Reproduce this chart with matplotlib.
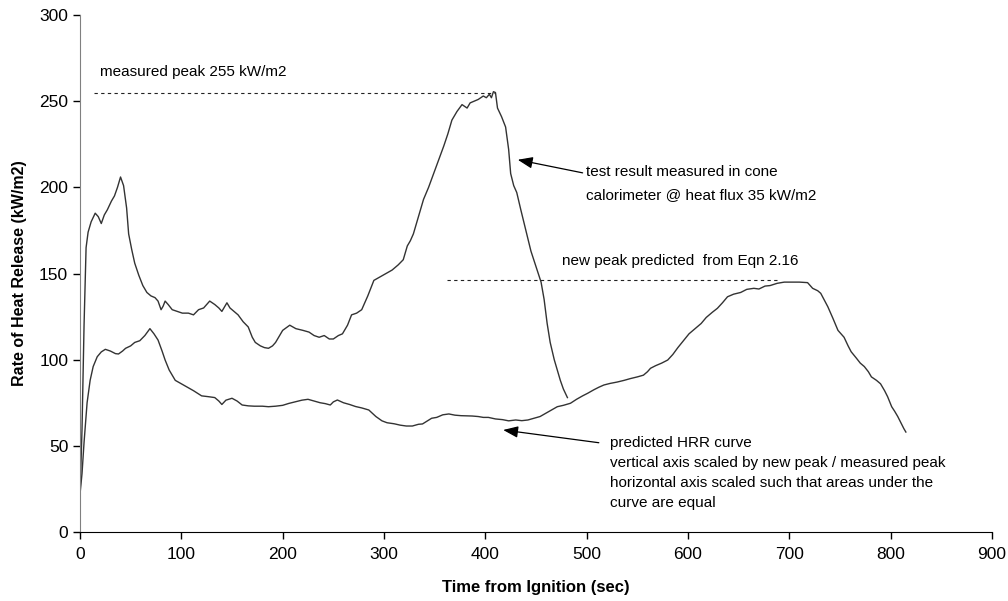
import matplotlib
matplotlib.use("Agg")
import matplotlib.pyplot as plt
import numpy as np

plt.rcParams['font.family'] = ['Liberation Sans', 'DejaVu Sans']

# Measured HRR (cone calorimeter, 35 kW/m2)
measured_t = [0, 2, 4, 6, 8, 11, 15, 18, 21, 24, 27, 31, 34, 37, 40, 43, 46, 48, 51, 54,
              58, 62, 66, 70, 74, 77, 80, 82, 84, 87, 91, 96, 101, 107, 112, 117, 122, 128,
              133, 137, 140, 143, 145, 148, 152, 156, 161, 166, 170, 173, 178, 182, 186,
              190, 193, 197, 200, 207, 213, 220, 226, 231, 236, 241, 246, 250, 255, 259,
              264, 268, 273, 278, 284, 290, 296, 302, 308, 314, 319, 323, 326, 329, 334,
              339, 344, 349, 354, 359, 363, 367, 372, 377, 382, 385, 389, 393, 398, 401,
              404, 406, 408, 410, 412, 416, 420, 423, 425, 428, 431, 435, 440, 445, 450,
              455, 458, 461, 464, 468, 471, 474, 477, 481]
measured_hrr = [20, 60, 120, 165, 174, 180, 185, 183, 179, 184, 187, 192, 195, 200, 206, 201,
                188, 173, 164, 156, 149, 143, 139, 137, 136, 134, 129, 131, 134, 132, 129,
                128, 127, 127, 126, 129, 130, 134, 132, 130, 128, 131, 133, 130, 128, 126,
                122, 119, 113, 110, 108, 107, 106.6, 108, 110, 114, 117, 120, 118, 117, 116,
                114, 113, 114, 112, 112, 114, 115, 120, 126, 127, 129, 137, 146, 148, 150,
                152, 155, 158, 166, 169, 173, 183, 193, 200, 208, 216, 224, 231, 239, 244,
                248, 246, 249, 250, 251, 253, 252, 254, 252, 255.5, 255, 246, 241, 235, 222,
                208, 201, 197, 187, 175, 163, 154, 145, 135, 121, 110, 100, 94, 88, 83, 78]

# Predicted HRR curve (scaled)
pred_t = [0, 2, 4, 7, 10, 13, 17, 21, 25, 30, 35, 38, 42, 45, 50, 54, 59, 64, 69, 73, 77, 81,
          84, 88, 94, 100, 106, 112, 120, 127, 133, 137, 140, 144, 150, 155, 160, 166, 172,
          180, 186, 193, 200, 206, 212, 219, 225, 231, 237, 242, 247, 250, 254, 260, 266,
          272, 278, 285, 292, 298, 303, 310, 316, 322, 328, 334, 338, 343, 347, 352, 358,
          364, 370, 376, 382, 387, 393, 398, 403, 410, 417, 423, 430, 436, 442, 448, 454,
          460, 466, 471, 477, 484, 490, 496, 501, 507, 512, 517, 523, 530, 537, 543, 550,
          556, 560, 563, 568, 574, 580, 585, 590, 596, 601, 607, 613, 618, 624, 629, 634,
          639, 645, 652, 658, 665, 670, 676, 681, 688, 695, 702, 710, 718, 723, 728, 731,
          735, 738, 743, 748, 754, 758, 761, 766, 770, 774, 778, 781, 786, 790, 794, 797,
          801, 804, 807, 810, 813, 815]
pred_hrr = [22, 34, 52, 75, 88, 96, 101.7, 104.5, 106, 105, 103.5, 103.3, 105, 106.6, 108,
            110, 111, 114, 118, 115, 111.4, 105, 99.8, 94, 88, 86, 84, 82, 79, 78.5, 78, 76,
            74, 76.5, 77.6, 76, 73.7, 73.2, 73, 73, 72.7, 73, 73.5, 74.6, 75.5, 76.5, 77, 76,
            75, 74.5, 73.7, 75.5, 76.6, 75, 74, 72.8, 72, 70.8, 67, 64.5, 63.4, 62.8, 62,
            61.5, 61.5, 62.5, 62.7, 64.5, 66, 66.5, 68, 68.5, 67.8, 67.5, 67.4, 67.3, 67,
            66.5, 66.5, 65.6, 65.2, 64.5, 65, 64.6, 65, 66, 67, 69, 71, 72.7, 73.5, 74.7, 77,
            79, 80.5, 82.5, 84, 85.3, 86.2, 87, 88, 89, 90, 91, 93, 95, 96.5, 98, 99.8, 103,
            107, 111.4, 115, 118, 121, 124.5, 127.5, 129.8, 133, 136.5, 138, 139, 140.8,
            141.4, 141, 142.7, 143, 144.3, 145, 145, 145, 144.7, 141.4, 140, 138.5, 134,
            130.7, 124, 117, 113, 108, 104.6, 101, 98, 96, 93, 90, 88, 86, 82, 78.5, 72.7,
            70, 67, 63.5, 60, 58]

measured_peak = 255
predicted_peak = 146

x_ticks = [0, 100, 200, 300, 400, 500, 600, 700, 800, 900]
y_ticks = [0, 50, 100, 150, 200, 250, 300]

fig = plt.figure(figsize=(10.08, 6.01), dpi=100)
ax = fig.add_axes([80/1008, 1 - 532/601, 912/1008, 517/601])

ax.plot(measured_t, measured_hrr, color='#333333', lw=1.0)
ax.plot(pred_t, pred_hrr, color='#333333', lw=1.0)

dash = (0, (3, 3))
ax.plot([14, 410], [measured_peak, measured_peak], color='#222222', lw=0.8, linestyle=dash)
ax.plot([362, 690], [predicted_peak, predicted_peak], color='#222222', lw=0.8, linestyle=dash)

fs = 11
ax.text(20, 267, 'measured peak 255 kW/m2', fontsize=fs, va='center', ha='left')
ax.text(499, 209, 'test result measured in cone', fontsize=fs, va='center', ha='left')
ax.text(499, 195.5, 'calorimeter @ heat flux 35 kW/m2', fontsize=fs, va='center', ha='left')
ax.text(476, 157, 'new peak predicted  from Eqn 2.16', fontsize=fs, va='center', ha='left')
pred_lines = ['predicted HRR curve',
              'vertical axis scaled by new peak / measured peak',
              'horizontal axis scaled such that areas under the',
              'curve are equal']
for i, s in enumerate(pred_lines):
    ax.text(523, 51.6 - i * 11.6, s, fontsize=fs, va='center', ha='left')

arrow_kw = dict(arrowstyle='-|>,head_length=0.9,head_width=0.35', color='black', lw=0.9,
                shrinkA=0, shrinkB=0)
ax.annotate('', xy=(432, 216), xytext=(496, 208.4), arrowprops=arrow_kw)
ax.annotate('', xy=(417.6, 59.2), xytext=(512, 51.8), arrowprops=arrow_kw)

ax.set_xlim(0, 900)
ax.set_ylim(0, 300)
ax.set_xticks(x_ticks)
ax.set_yticks(y_ticks)
ax.tick_params(axis='both', direction='out', length=5, width=1, labelsize=12.5, colors='black')
ax.tick_params(axis='x', pad=6)
ax.spines['top'].set_visible(False)
ax.spines['right'].set_visible(False)
ax.spines['left'].set_color('#808080')
ax.spines['bottom'].set_color('black')

ax.set_xlabel('Time from Ignition (sec)', fontsize=12, fontweight='bold', labelpad=13)
ax.set_ylabel('Rate of Heat Release (kW/m2)', fontsize=11.5, fontweight='bold', labelpad=9)

fig.savefig('out.png', dpi=100)
